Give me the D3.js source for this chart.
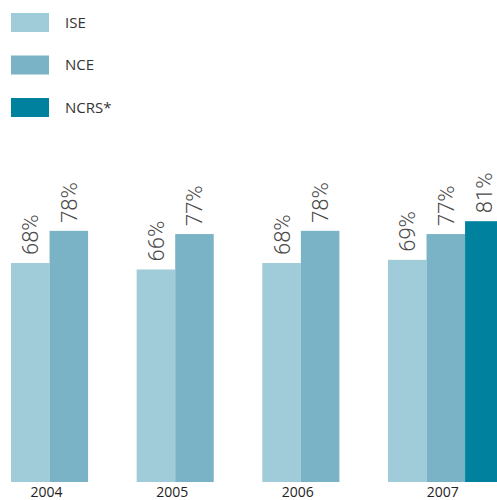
<!DOCTYPE html>
<html>
<head>
<meta charset="utf-8">
<script src="https://cdn.jsdelivr.net/npm/d3@7"></script>
<style>
  body { margin: 0; background: #fff; }
  svg { display: block; }
</style>
</head>
<body>
<div id="chart"></div>
<script>
// data
const years = ["2004", "2005", "2006", "2007"];
const seriesNames = ["ISE", "NCE", "NCRS*"];
const iseValues = [68, 66, 68, 69];
const nceValues = [78, 77, 78, 77];
const ncrsValues = [null, null, null, 81];

const colors = ["#a0cbd8", "#7ab3c5", "#00829f"];

const width = 497;
const height = 500;

const svg = d3
  .select("#chart")
  .append("svg")
  .attr("width", width)
  .attr("height", height);

// legend
const legend = svg
  .append("g")
  .selectAll("g")
  .data(seriesNames)
  .enter()
  .append("g")
  .attr("transform", (d, i) => `translate(11,${13 + i * 42.5})`);

legend
  .append("rect")
  .attr("width", 38)
  .attr("height", 19)
  .style("fill", (d, i) => colors[i]);

legend
  .append("text")
  .attr("x", 54)
  .attr("y", 9.5)
  .attr("dy", "0.36em")
  .style("font-family", "'Open Sans', sans-serif")
  .style("font-size", "15px")
  .style("fill", "#333")
  .text((d) => d);

// scales
const x0 = d3.scaleBand().domain(years).range([11, 503.6]).paddingInner(0.08);
const x1 = d3.scaleBand().domain(seriesNames).range([0, x0.bandwidth()]);
const y = d3.scaleLinear().domain([0, 100]).range([482, 160]);

const rows = years.map((yr, i) => ({
  year: yr,
  values: [iseValues[i], nceValues[i], ncrsValues[i]]
    .map((v, j) => ({ key: seriesNames[j], value: v, idx: j }))
    .filter((d) => d.value != null),
}));

const groups = svg
  .append("g")
  .selectAll("g")
  .data(rows)
  .enter()
  .append("g")
  .attr("transform", (d) => `translate(${x0(d.year)},0)`);

groups
  .selectAll("rect")
  .data((d) => d.values)
  .enter()
  .append("rect")
  .attr("x", (d) => x1(d.key))
  .attr("y", (d) => y(d.value))
  .attr("width", x1.bandwidth())
  .attr("height", (d) => y(0) - y(d.value))
  .style("fill", (d) => colors[d.idx]);

// rotated value labels
groups
  .selectAll("text.val")
  .data((d) => d.values)
  .enter()
  .append("text")
  .attr("class", "val")
  .attr("transform", (d) => `translate(${x1(d.key) + x1.bandwidth() / 2},${y(d.value) - 8}) rotate(-90)`)
  .attr("dy", "0.36em")
  .style("font-family", "Roboto, sans-serif")
  .style("font-weight", 300)
  .style("font-size", "22px")
  .style("fill", "#4a4a4a")
  .text((d) => d.value + "%");

// year labels, centred under the bars that are drawn
groups
  .append("text")
  .attr("x", (d) => (d.values.length * x1.bandwidth()) / 2 - 3)
  .attr("y", 497)
  .attr("text-anchor", "middle")
  .style("font-family", "'Open Sans', sans-serif")
  .style("font-size", "14px")
  .style("fill", "#222")
  .text((d) => d.year);
</script>
</body>
</html>
